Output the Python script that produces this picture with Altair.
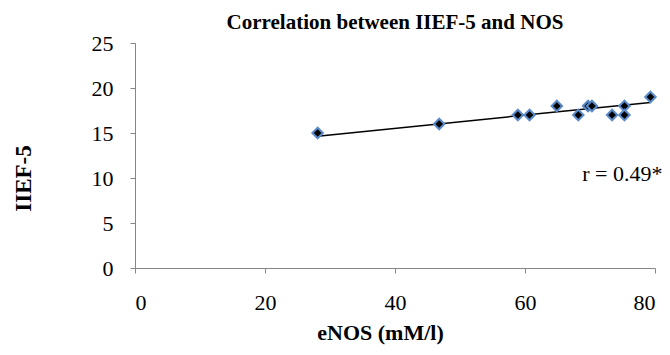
import altair as alt
import pandas as pd

enos = [28.1, 46.8, 58.9, 60.7, 64.9, 68.2, 69.7, 70.3, 73.4, 75.3, 75.3, 79.3]
iief = [15, 16, 17, 17, 18, 17, 18, 18, 17, 18, 17, 19]
trend_x = [28.1, 79.3]
trend_y = [14.65, 18.4]
note_x = [68.8]
note_y = [10.4]
note_text = ["r = 0.49*"]

pts = pd.DataFrame({"x": enos, "y": iief})
trend = pd.DataFrame({"x": trend_x, "y": trend_y})
note = pd.DataFrame({"x": note_x, "y": note_y, "t": note_text})

FONT = "Liberation Serif"
xs = alt.Scale(domain=[0, 80], nice=False, zero=True)
ys = alt.Scale(domain=[0, 25], nice=False)

xax = alt.Axis(values=[0, 20, 40, 60, 80], title="eNOS (mM/l)", grid=False,
               domainColor="#868686", tickColor="#868686", tickSize=5,
               labelFont=FONT, labelFontSize=22, labelColor="black", labelPadding=19,
               titleFont=FONT, titleFontSize=22, titleFontWeight="bold", titleColor="black",
               titlePadding=9, titleX=245)
yax = alt.Axis(values=[0, 5, 10, 15, 20, 25], title="IIEF-5", grid=False,
               domainColor="#868686", tickColor="#868686", tickSize=5,
               labelFont=FONT, labelFontSize=22, labelColor="black", labelPadding=17,
               titleFont=FONT, titleFontSize=23, titleFontWeight="bold", titleColor="black",
               titlePadding=56, titleY=135)

line = alt.Chart(trend).mark_line(color="black", strokeWidth=1.5).encode(
    x=alt.X("x:Q", scale=xs, axis=xax), y=alt.Y("y:Q", scale=ys, axis=yax))
points = alt.Chart(pts).mark_point(shape="diamond", filled=True, fill="black",
                                   stroke="#5B8BC9", strokeWidth=2, size=110, opacity=1).encode(
    x=alt.X("x:Q", scale=xs), y=alt.Y("y:Q", scale=ys))
text = alt.Chart(note).mark_text(font=FONT, fontSize=22, align="left", baseline="middle",
                                 color="black").encode(
    x=alt.X("x:Q", scale=xs), y=alt.Y("y:Q", scale=ys), text="t:N")

chart = (line + points + text).properties(
    width=520, height=225,
    title=alt.TitleParams("Correlation between IIEF-5 and NOS", font=FONT, fontSize=21,
                          fontWeight="bold", color="black", anchor="middle", offset=10, dy=11),
    padding={"left": 127, "top": 35, "right": 7, "bottom": 79},
    autosize=alt.AutoSizeParams(type="none"),
).configure_view(stroke=None)

chart.save("out.html", embed_options={"renderer": "svg", "actions": False})
